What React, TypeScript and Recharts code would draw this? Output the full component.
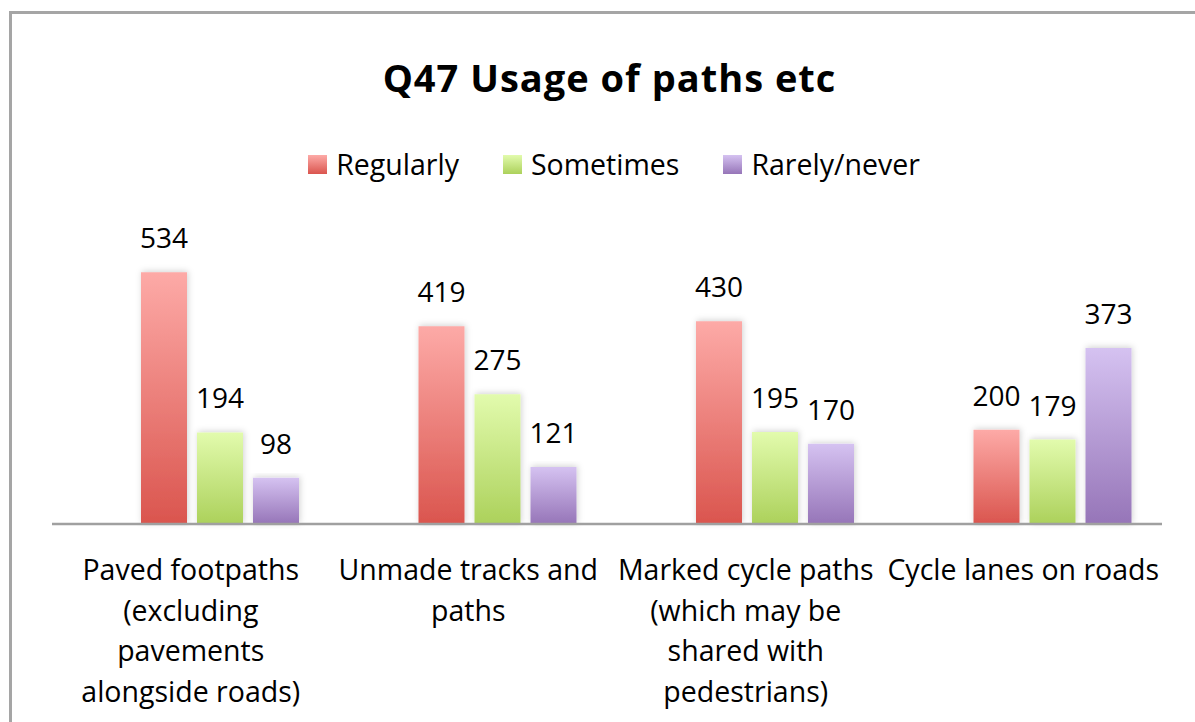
import { Bar, BarChart, LabelList, Rectangle, XAxis, YAxis } from 'recharts';

const categories = [
	'Paved footpaths (excluding pavements alongside roads)',
	'Unmade tracks and paths',
	'Marked cycle paths (which may be shared with pedestrians)',
	'Cycle lanes on roads',
];

// how Excel wrapped each category label
const categoryLines = [
	['Paved footpaths', '(excluding', 'pavements', 'alongside roads)'],
	['Unmade tracks and', 'paths'],
	['Marked cycle paths', '(which may be', 'shared with', 'pedestrians)'],
	['Cycle lanes on roads'],
];

const regularly = [534, 419, 430, 200];
const sometimes = [194, 275, 195, 179];
const rarelyNever = [98, 121, 170, 373];

const seriesNames = ['Regularly', 'Sometimes', 'Rarely/never'];

const FONT = '"Open Sans", sans-serif';

const series = [
	{ key: 'regularly', name: seriesNames[0], id: 'gRed', top: '#fdaaa7', bottom: '#da554e' },
	{ key: 'sometimes', name: seriesNames[1], id: 'gGreen', top: '#e2fbad', bottom: '#acd15b' },
	{ key: 'rarely', name: seriesNames[2], id: 'gPurple', top: '#d5c2f1', bottom: '#9675b8' },
];

const data = categories.map((name, i) => ({
	name,
	regularly: regularly[i],
	sometimes: sometimes[i],
	rarely: rarelyNever[i],
}));

function CategoryTick(props: any) {
	const { x, y, payload } = props;
	const lines = categoryLines[categories.indexOf(payload.value)] ?? [];
	return (
		<text x={x} y={y} textAnchor="middle" fontFamily={FONT} fontSize={28.5} fill="#000">
			{lines.map((line, i) => (
				<tspan key={i} x={x} dy={i === 0 ? 56 : 40.5}>
					{line}
				</tspan>
			))}
		</text>
	);
}

function ShadowBar(props: any) {
	return <Rectangle {...props} filter="url(#barShadow)" />;
}

export default function App() {
	return (
		<div
			style={{
				position: 'fixed',
				left: 0,
				top: 0,
				width: 1195,
				height: 722,
				overflow: 'hidden',
				background: '#fff',
			}}
		>
			<div
				style={{
					position: 'absolute',
					left: 9,
					top: 11,
					width: 1400,
					height: 900,
					border: '3px solid #a5a5a5',
				}}
			/>
			<div
				style={{
					position: 'absolute',
					left: 0,
					top: 51,
					width: 1219,
					textAlign: 'center',
					fontFamily: FONT,
					fontWeight: 700,
					fontSize: 38,
					letterSpacing: 1,
					color: '#000',
				}}
			>
				Q47 Usage of paths etc
			</div>
			<div
				style={{
					position: 'absolute',
					left: 0,
					top: 145,
					width: 1228,
					display: 'flex',
					justifyContent: 'center',
					gap: 44,
					fontFamily: FONT,
					fontSize: 28.5,
					color: '#000',
				}}
			>
				{series.map((s) => (
					<div key={s.key} style={{ display: 'flex', alignItems: 'center', gap: 9 }}>
						<div
							style={{
								width: 19,
								height: 19,
								background: `linear-gradient(${s.top}, ${s.bottom})`,
							}}
						/>
						<span>{s.name}</span>
					</div>
				))}
			</div>
			<div style={{ position: 'absolute', left: 0, top: 0 }}>
				<BarChart
					width={1195}
					height={722}
					data={data}
					margin={{ top: 241, right: 33, bottom: 0, left: 52 }}
					barSize={46}
					barGap={10}
				>
					<defs>
						{series.map((s) => (
							<linearGradient key={s.id} id={s.id} x1="0" y1="0" x2="0" y2="1">
								<stop offset="0%" stopColor={s.top} />
								<stop offset="100%" stopColor={s.bottom} />
							</linearGradient>
						))}
						<filter id="barShadow" x="-30%" y="-10%" width="160%" height="120%">
							<feDropShadow dx="1" dy="-1" stdDeviation="3" floodColor="#000" floodOpacity="0.18" />
						</filter>
					</defs>
					<XAxis
						xAxisId="labels"
						dataKey="name"
						height={198}
						interval={0}
						tickLine={false}
						tickSize={0}
						tickMargin={0}
						axisLine={{ stroke: '#a0a0a0', strokeWidth: 2.5 }}
						tick={<CategoryTick />}
					/>
					<XAxis xAxisId="bars" dataKey="name" hide height={0} padding={{ left: 29, right: -29 }} />
					<YAxis hide domain={[0, 600]} />
					{series.map((s) => (
						<Bar
							key={s.key}
							xAxisId="bars"
							dataKey={s.key}
							name={s.name}
							fill={`url(#${s.id})`}
							shape={<ShadowBar />}
							isAnimationActive={false}
						>
							<LabelList
								dataKey={s.key}
								position="top"
								offset={24}
								fontFamily={FONT}
								fontSize={28}
								fill="#000"
							/>
						</Bar>
					))}
				</BarChart>
			</div>
		</div>
	);
}
